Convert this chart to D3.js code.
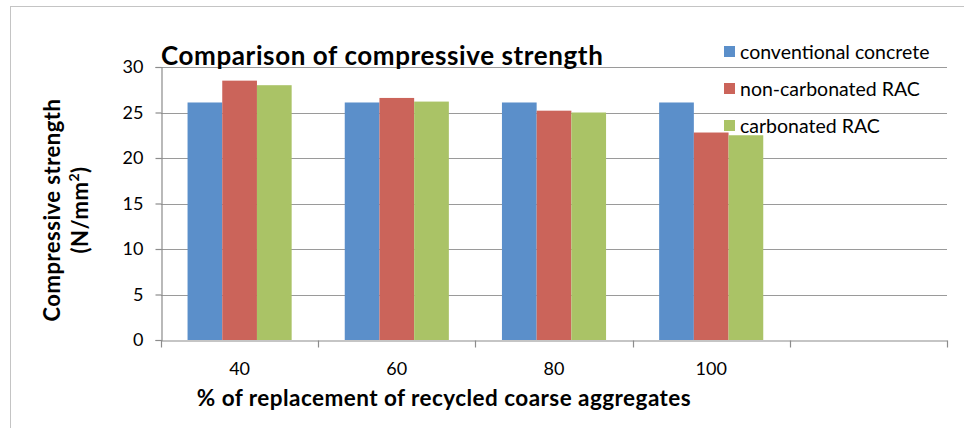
<!DOCTYPE html>
<html>
<head>
<meta charset="utf-8">
<script src="https://cdn.jsdelivr.net/npm/d3@7"></script>
<style>
  body { margin: 0; background: #fff; }
  svg { display: block; }
  text { font-family: Lato, "Open Sans", sans-serif; fill: #000; }
</style>
</head>
<body>
<div id="chart"></div>
<script>
// chart data
var categories = ["40", "60", "80", "100", ""];
var seriesNames = ["conventional concrete", "non-carbonated RAC", "carbonated RAC"];
var conventional = [26.1, 26.1, 26.1, 26.1];
var nonCarbonated = [28.5, 26.6, 25.2, 22.8];
var carbonated = [28.0, 26.2, 25.0, 22.5];
var yTicks = [0, 5, 10, 15, 20, 25, 30];
var colors = ["#5B8FCA", "#CB645A", "#AAC366"];

var seriesValues = [conventional, nonCarbonated, carbonated];

var width = 964, height = 428;
var margin = {left: 161, right: 17, top: 67, bottom: 88};

var svg = d3.select("#chart").append("svg")
    .attr("width", width)
    .attr("height", height);

// outer frame
svg.append("rect")
    .attr("x", 10.5).attr("y", 6.5)
    .attr("width", 1000).attr("height", 500)
    .attr("fill", "none")
    .attr("stroke", "#c4c4c4");

var x0 = d3.scaleBand()
    .domain(categories)
    .range([margin.left, width - margin.right]);

var x1 = d3.scaleBand()
    .domain(seriesNames)
    .range([0, x0.bandwidth()])
    .paddingOuter(0.765);

var y = d3.scaleLinear()
    .domain([0, 30])
    .range([height - margin.bottom, margin.top]);

// gridlines
svg.append("g").selectAll("line")
    .data(yTicks.filter(function(d){ return d > 0; }))
    .enter().append("line")
    .attr("x1", margin.left).attr("x2", width - margin.right)
    .attr("y1", function(d){ return Math.round(y(d)) + 0.5; })
    .attr("y2", function(d){ return Math.round(y(d)) + 0.5; })
    .attr("stroke", "#9a9a9a")
    .attr("stroke-width", 1.2);

// bars
var table = [];
categories.forEach(function(c, i) {
    seriesNames.forEach(function(s, j) {
        if (seriesValues[j][i] !== undefined) {
            table.push({cat: c, series: s, idx: j, value: seriesValues[j][i]});
        }
    });
});

svg.append("g").selectAll("rect")
    .data(table)
    .enter().append("rect")
    .attr("x", function(d){ return x0(d.cat) + x1(d.series); })
    .attr("width", x1.bandwidth())
    .attr("y", function(d){ return y(d.value); })
    .attr("height", function(d){ return y(0) - y(d.value); })
    .attr("fill", function(d){ return colors[d.idx]; });

// y axis
var yAxis = d3.axisLeft(y)
    .tickValues(yTicks)
    .tickSize(6)
    .tickPadding(12);
var gy = svg.append("g")
    .attr("transform", "translate(" + (margin.left + 0.5) + ",0)")
    .call(yAxis);
gy.select(".domain").attr("stroke", "#8c8c8c").attr("stroke-width", 1.2);
gy.selectAll(".tick line").attr("stroke", "#8c8c8c").attr("stroke-width", 1.2);
gy.selectAll(".tick text")
    .attr("font-size", 18)
    .attr("font-family", "Lato, sans-serif")
    .attr("fill", "#000");

// x axis: labels at band centres, tick marks at band edges
var xAxis = d3.axisBottom(x0)
    .tickSize(0)
    .tickPadding(22);
var gx = svg.append("g")
    .attr("transform", "translate(0," + (y(0) + 0.5) + ")")
    .call(xAxis);
gx.select(".domain").attr("stroke", "#8c8c8c").attr("stroke-width", 1.2);
gx.selectAll(".tick text")
    .attr("font-size", 18)
    .attr("font-family", "Lato, sans-serif")
    .attr("fill", "#000");

var edges = categories.map(function(c){ return x0(c); }).concat([x0.range()[1]]);
gx.selectAll(".edge")
    .data(edges)
    .enter().append("line")
    .attr("class", "edge")
    .attr("x1", function(d){ return Math.round(d) + 0.5; })
    .attr("x2", function(d){ return Math.round(d) + 0.5; })
    .attr("y1", 0).attr("y2", 7)
    .attr("stroke", "#8c8c8c")
    .attr("stroke-width", 1.2);

// title
svg.append("text")
    .attr("x", margin.left)
    .attr("y", 65)
    .attr("font-size", 26)
    .attr("letter-spacing", 0.6)
    .attr("font-weight", "bold")
    .text("Comparison of compressive strength");

// axis titles
svg.append("text")
    .attr("x", 444)
    .attr("y", 406)
    .attr("text-anchor", "middle")
    .attr("font-size", 22.5)
    .attr("letter-spacing", 0.45)
    .attr("font-weight", "bold")
    .text("% of replacement of recycled coarse aggregates");

var yTitle = svg.append("text")
    .attr("transform", "translate(60,210) rotate(-90)")
    .attr("text-anchor", "middle")
    .attr("font-size", 22)
    .attr("letter-spacing", 0.5)
    .attr("font-weight", "bold");
yTitle.append("tspan")
    .attr("x", 0).attr("y", 0)
    .text("Compressive strength");
var t2 = yTitle.append("tspan")
    .attr("x", 0).attr("dy", 28)
    .text("(N/mm");
t2.append("tspan").attr("font-size", 14).attr("dy", -9).text("2");
t2.append("tspan").attr("dy", 9).text(")");

// legend
var legend = svg.append("g").selectAll("g")
    .data(seriesNames)
    .enter().append("g")
    .attr("transform", function(d, i){ return "translate(724," + (46 + i * 37) + ")"; });
legend.append("rect")
    .attr("width", 11).attr("height", 11)
    .attr("fill", function(d, i){ return colors[i]; });
legend.append("text")
    .attr("x", 16)
    .attr("y", 12.5)
    .attr("font-size", 19.5)
    .text(function(d){ return d; });
</script>
</body>
</html>
